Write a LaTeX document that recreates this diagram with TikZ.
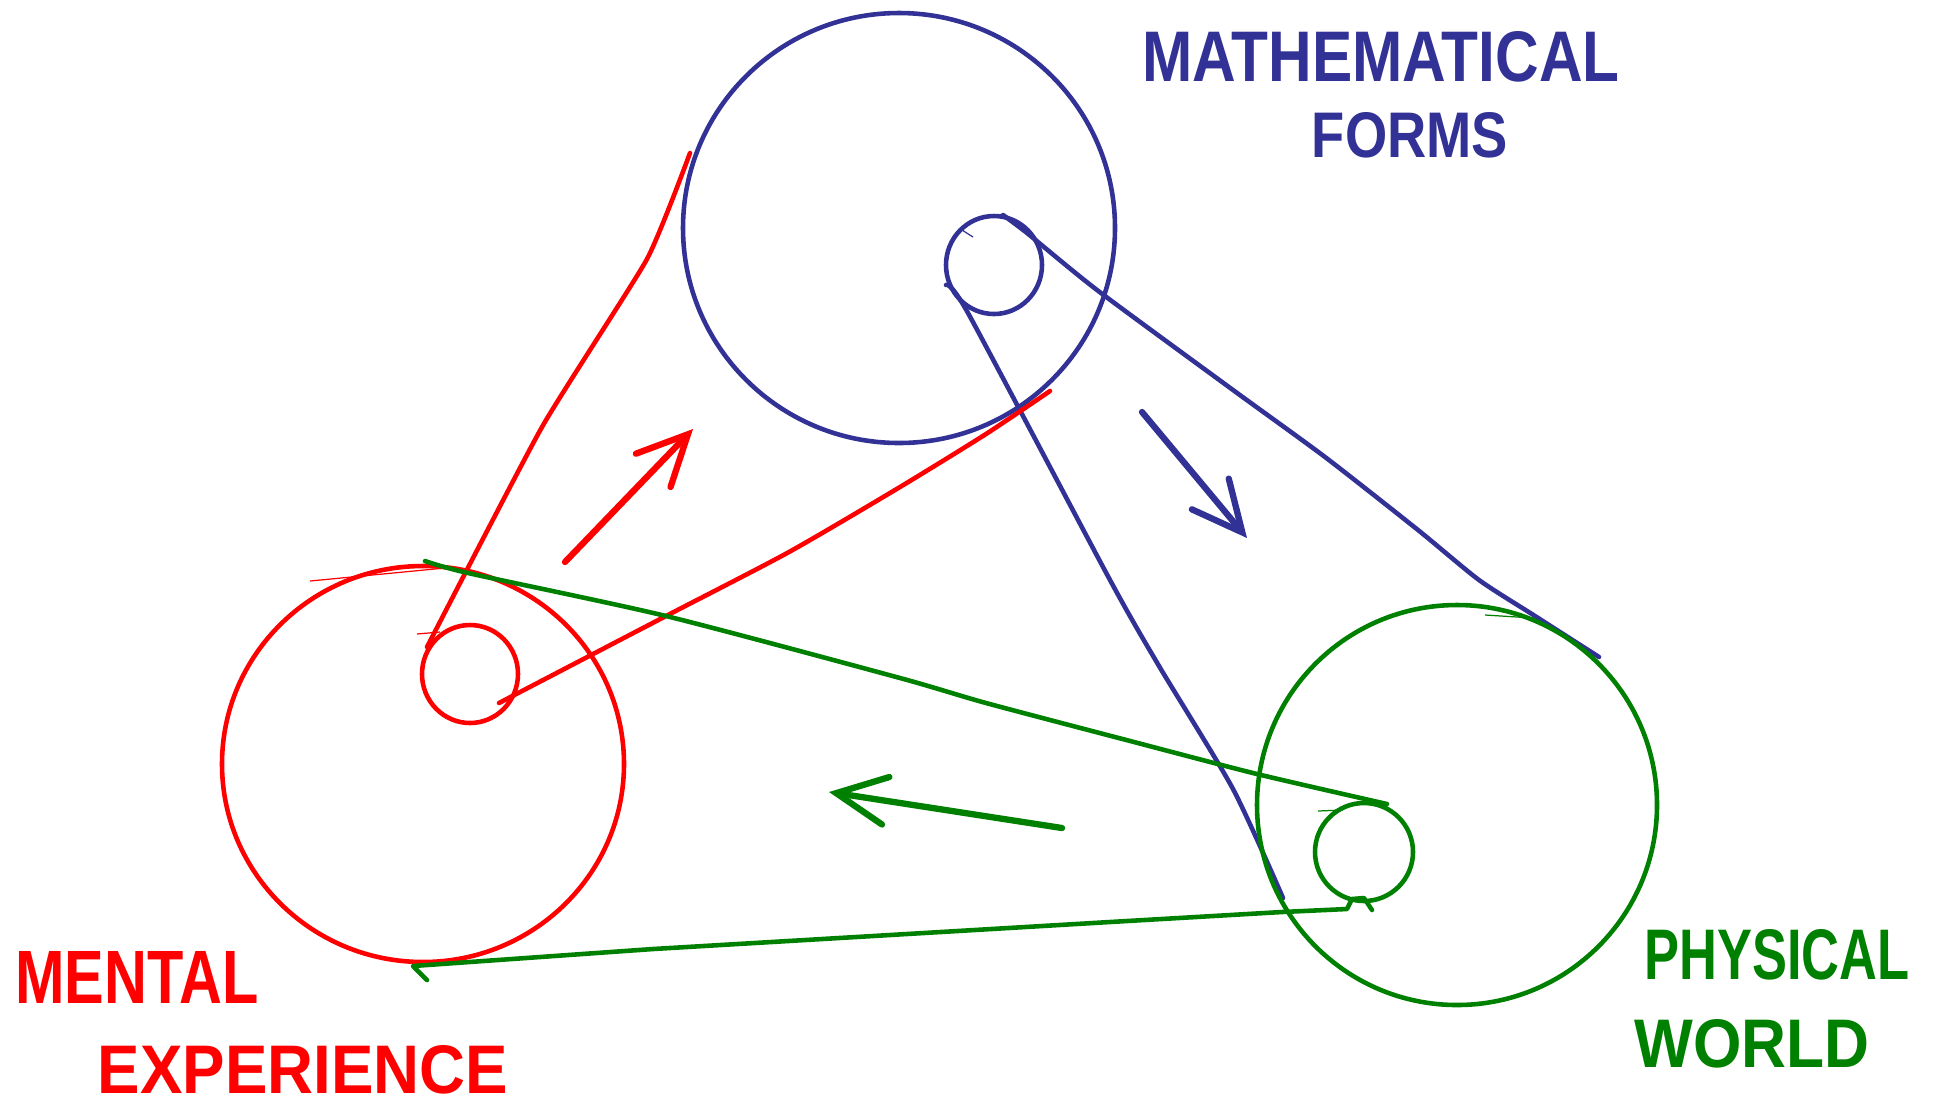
\documentclass[tikz,border=0pt]{standalone}
\usepackage{fontspec}
\setmainfont{Liberation Sans}
\usetikzlibrary{arrows.meta}
\definecolor{mathblue}{RGB}{50,50,150}
\definecolor{physgreen}{RGB}{0,128,0}
\definecolor{mentred}{RGB}{255,0,0}
\newcommand{\hand}[3]{\resizebox{#1cm}{#2cm}{\bfseries #3}}

\begin{document}
\begin{tikzpicture}[x=0.01cm,y=-0.01cm,
    belt/.style={line width=1.3pt,line join=round,line cap=round},
    stray/.style={line width=0.35pt},
    turn/.style={line width=1.8pt,line cap=round,-{Straight Barb[length=5mm,width=4.8mm,line cap=round]}},
    lbl/.style={inner sep=0pt}]

    \useasboundingbox (0,0) rectangle (1933,1108);

    % pulley centres
    \coordinate (mf) at (899,228);
    \coordinate (mfs) at (994,265);
    \coordinate (me) at (423,764);
    \coordinate (mes) at (470,674);
    \coordinate (pw) at (1457,805);
    \coordinate (pws) at (1364,852);

    % mathematical forms
    \draw[belt,mathblue] (mf) ellipse [x radius=216, y radius=215];
    \draw[belt,mathblue] (mfs) ellipse [x radius=48, y radius=49];
    \draw[belt,mathblue] plot[smooth,tension=0.4] coordinates {(1003,215) (1027,233) (1097,290)
        (1233,390) (1325,457) (1418,530) (1479,580) (1535,616) (1599,657)};
    \draw[belt,mathblue] plot[smooth,tension=0.4] coordinates {(946,285) (968,313) (1110,580)
        (1159,666) (1233,789) (1283,898)};
    \draw[stray,mathblue] (962,230) -- (973,237);

    % mental experience
    \draw[belt,mentred] (me) ellipse [x radius=201, y radius=198];
    \draw[belt,mentred] (mes) ellipse [x radius=48, y radius=49];
    \draw[belt,mentred] plot[smooth,tension=0.3] coordinates {(427,647) (542,427) (647,259) (690,153)};
    \draw[belt,mentred] plot[smooth,tension=0.4] coordinates {(499,703) (666,616) (789,552)
        (900,487) (986,434) (1050,391)};
    \draw[stray,mentred] (310,581) -- (445,568);
    \draw[stray,mentred] (417,634) -- (440,632);

    % physical world
    \draw[belt,physgreen] (pw) circle [radius=200];
    \draw[belt,physgreen] (pws) circle [radius=49];
    \draw[belt,physgreen] plot[smooth,tension=0.4] coordinates {(1387,804) (1257,774) (1134,742)
        (986,703) (900,678) (666,616) (468,573) (425,561)};
    \draw[belt,physgreen] (1372,910) -- (1364,898) -- (1352,899) -- (1347,909) -- (1282,912)
        -- (1110,922) -- (653,949) -- (413,966) -- (427,980);
    \draw[stray,physgreen] (1318,811) -- (1343,810);
    \draw[stray,physgreen] (1485,615) -- (1533,618);

    % direction of the belts
    \draw[turn,mentred] (565,562) -- (693,429);
    \draw[turn,mathblue] (1142,412) -- (1247,538);
    \draw[turn,physgreen] (1062,828) -- (829,792);

    \node[lbl,text=mathblue] (mathlbl) at (1381,57) {\hand{4.77}{0.50}{MATHEMATICAL}};
    \node[lbl,text=mathblue] (formlbl) at (1410,135) {\hand{1.96}{0.45}{FORMS}};
    \node[lbl,text=mentred] (mentlbl) at (137,977) {\hand{2.43}{0.52}{MENTAL}};
    \node[lbl,text=mentred] (explbl) at (303,1070) {\hand{4.10}{0.48}{EXPERIENCE}};
    \node[lbl,text=physgreen] (physlbl) at (1777,955) {\hand{2.65}{0.50}{PHYSICAL}};
    \node[lbl,text=physgreen] (worldlbl) at (1752,1044) {\hand{2.35}{0.48}{WORLD}};

\end{tikzpicture}
\end{document}
